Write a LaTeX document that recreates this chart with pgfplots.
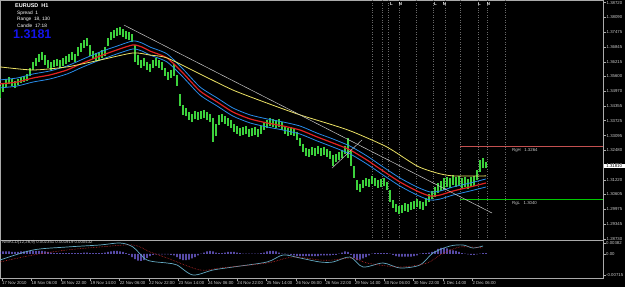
\documentclass[border=0pt]{standalone}
\usepackage{fontspec}
\setmainfont{Liberation Sans}
\usepackage{pgfplots}
\pgfplotsset{compat=1.18}
\usepackage{pgfplotstable}
\definecolor{pricegreen}{RGB}{60,210,60}
\definecolor{mared}{RGB}{225,35,35}
\definecolor{mablue}{RGB}{40,140,235}
\definecolor{mayellow}{RGB}{235,225,100}
\definecolor{axisgray}{RGB}{170,170,170}
\definecolor{labelgray}{RGB}{205,205,205}
\definecolor{trendgray}{RGB}{200,200,200}
\definecolor{dotgray}{RGB}{105,105,105}
\definecolor{rangered}{RGB}{195,80,80}
\definecolor{rangegreen}{RGB}{0,200,0}
\definecolor{histviolet}{RGB}{135,115,255}
\definecolor{macdmain}{RGB}{100,170,195}
\definecolor{macdsig}{RGB}{205,45,45}
\definecolor{bigblue}{RGB}{20,20,235}

\pgfplotstableread{
x hi lo
0 1.3519 1.3469
3 1.3528 1.3494
6 1.3549 1.3515
9 1.3557 1.3528
12 1.3549 1.3519
15 1.3540 1.3511
18 1.3549 1.3523
21 1.3557 1.3532
24 1.3562 1.3536
27 1.3570 1.3540
30 1.3595 1.3562
33 1.3621 1.3587
36 1.3638 1.3604
39 1.3655 1.3621
42 1.3663 1.3629
45 1.3650 1.3608
48 1.3629 1.3595
51 1.3621 1.3587
54 1.3629 1.3600
57 1.3633 1.3604
60 1.3629 1.3595
63 1.3638 1.3604
66 1.3646 1.3612
69 1.3655 1.3621
72 1.3663 1.3629
75 1.3655 1.3621
78 1.3684 1.3646
81 1.3701 1.3663
84 1.3714 1.3680
87 1.3722 1.3688
90 1.3693 1.3646
93 1.3667 1.3633
96 1.3659 1.3625
99 1.3663 1.3629
102 1.3672 1.3638
105 1.3684 1.3646
108 1.3722 1.3688
111 1.3748 1.3714
114 1.3756 1.3722
117 1.3765 1.3731
120 1.3769 1.3735
123 1.3760 1.3727
126 1.3752 1.3718
129 1.3748 1.3714
132 1.3739 1.3705
135 1.3693 1.3621
138 1.3650 1.3608
141 1.3629 1.3595
144 1.3638 1.3604
147 1.3621 1.3587
150 1.3612 1.3578
153 1.3629 1.3595
156 1.3638 1.3604
159 1.3629 1.3595
162 1.3621 1.3587
165 1.3595 1.3562
168 1.3578 1.3545
171 1.3587 1.3553
174 1.3612 1.3562
177 1.3566 1.3519
180 1.3485 1.3435
183 1.3439 1.3397
186 1.3426 1.3392
189 1.3409 1.3375
192 1.3401 1.3367
195 1.3413 1.3380
198 1.3409 1.3375
201 1.3413 1.3380
204 1.3418 1.3384
207 1.3409 1.3375
210 1.3401 1.3367
213 1.3384 1.3282
216 1.3358 1.3308
219 1.3397 1.3354
222 1.3401 1.3367
225 1.3392 1.3358
228 1.3384 1.3350
231 1.3375 1.3342
234 1.3358 1.3325
237 1.3350 1.3316
240 1.3342 1.3308
243 1.3346 1.3312
246 1.3350 1.3316
249 1.3337 1.3304
252 1.3342 1.3308
255 1.3346 1.3312
258 1.3337 1.3304
261 1.3350 1.3316
264 1.3367 1.3333
267 1.3375 1.3342
270 1.3384 1.3350
273 1.3380 1.3346
276 1.3375 1.3342
279 1.3380 1.3346
282 1.3367 1.3333
285 1.3350 1.3316
288 1.3342 1.3308
291 1.3346 1.3312
294 1.3342 1.3308
297 1.3325 1.3291
300 1.3299 1.3265
303 1.3274 1.3240
306 1.3257 1.3223
309 1.3253 1.3219
312 1.3261 1.3227
315 1.3257 1.3223
318 1.3265 1.3232
321 1.3257 1.3223
324 1.3261 1.3227
327 1.3253 1.3219
330 1.3244 1.3210
333 1.3227 1.3181
336 1.3232 1.3198
339 1.3240 1.3206
342 1.3249 1.3215
345 1.3265 1.3232
348 1.3299 1.3215
351 1.3249 1.3181
354 1.3181 1.3130
357 1.3122 1.3079
360 1.3105 1.3071
363 1.3122 1.3088
366 1.3130 1.3096
369 1.3126 1.3092
372 1.3139 1.3105
375 1.3130 1.3096
378 1.3122 1.3088
381 1.3126 1.3092
384 1.3130 1.3096
387 1.3113 1.3079
390 1.3079 1.3029
393 1.3037 1.3003
396 1.3020 1.2986
399 1.3012 1.2978
402 1.3016 1.2982
405 1.3024 1.2991
408 1.3020 1.2986
411 1.3029 1.2995
414 1.3033 1.2999
417 1.3041 1.3007
420 1.3033 1.2999
423 1.3029 1.2995
426 1.3046 1.3012
429 1.3062 1.3029
432 1.3075 1.3041
435 1.3092 1.3050
438 1.3109 1.3067
441 1.3117 1.3075
444 1.3130 1.3079
447 1.3134 1.3092
450 1.3130 1.3088
453 1.3143 1.3101
456 1.3134 1.3092
459 1.3139 1.3096
462 1.3130 1.3088
465 1.3134 1.3092
468 1.3126 1.3084
471 1.3134 1.3092
474 1.3139 1.3096
477 1.3164 1.3122
480 1.3206 1.3155
483 1.3215 1.3172
486 1.3198 1.3172
}\bars

\pgfplotstableread{
x mid up low
0 1.3528 1.3545 1.3511
17 1.3536 1.3553 1.3519
33 1.3553 1.3570 1.3536
50 1.3566 1.3583 1.3549
67 1.3587 1.3604 1.3570
83 1.3617 1.3633 1.3600
100 1.3646 1.3663 1.3629
117 1.3672 1.3688 1.3655
133 1.3693 1.3710 1.3676
142 1.3684 1.3701 1.3667
150 1.3667 1.3684 1.3650
167 1.3638 1.3655 1.3621
183 1.3574 1.3591 1.3557
200 1.3498 1.3515 1.3481
217 1.3452 1.3469 1.3435
233 1.3409 1.3426 1.3392
250 1.3380 1.3397 1.3363
267 1.3363 1.3380 1.3346
283 1.3350 1.3367 1.3333
300 1.3333 1.3350 1.3316
317 1.3304 1.3320 1.3287
333 1.3278 1.3295 1.3261
350 1.3249 1.3265 1.3232
367 1.3206 1.3223 1.3189
383 1.3160 1.3177 1.3143
400 1.3113 1.3130 1.3096
417 1.3075 1.3092 1.3058
430 1.3054 1.3071 1.3037
440 1.3058 1.3075 1.3041
453 1.3075 1.3092 1.3058
470 1.3092 1.3109 1.3075
486 1.3109 1.3126 1.3092
}\bands

\pgfplotstableread{
x y
0 1.3600
33 1.3587
67 1.3600
100 1.3629
133 1.3659
150 1.3650
167 1.3638
200 1.3570
233 1.3502
267 1.3447
300 1.3397
333 1.3354
353 1.3325
387 1.3261
417 1.3181
437 1.3151
453 1.3139
486 1.3139
}\slowma

\newcommand{\tinyfont}{\fontsize{4.3bp}{5bp}\selectfont}

\begin{document}
\begin{tikzpicture}
\fill[black] (0bp,0bp) rectangle (625bp,287bp);
\useasboundingbox (0bp,0bp) rectangle (625bp,287bp);

\begin{axis}[
  at={(0bp,47bp)}, anchor=south west, scale only axis,
  width=603bp, height=240bp,
  xmin=0, xmax=603, ymin=1.28678, ymax=1.3883,
  scaled ticks=false,
  axis line style={draw=axisgray, line width=0.7bp},
  clip mode=individual,
  xtick=\empty,
  ytick={1.38720,1.38090,1.37475,1.36845,1.36215,1.35600,1.34970,1.34355,1.33725,1.33095,1.32480,1.31850,1.31220,1.30605,1.29975,1.29345,1.28730},
  yticklabels={1.38720,1.38090,1.37475,1.36845,1.36215,1.35600,1.34970,1.34355,1.33725,1.33095,1.32480,1.31850,1.31220,1.30605,1.29975,1.29345,1.28730},
  ytick pos=right, yticklabel pos=right, tick align=outside,
  major tick length=3bp,
  tick style={draw=axisgray, line width=0.5bp},
  yticklabel style={font=\tinyfont, text=labelgray, anchor=west, inner sep=0.5bp},
]
% vertical dotted session lines
\addplot[dotgray, dotted, line width=0.45bp] coordinates {(372,1.28678) (372,1.3883)};
\addplot[dotgray, dotted, line width=0.45bp] coordinates {(382,1.28678) (382,1.3883)};
\addplot[dotgray, dotted, line width=0.45bp] coordinates {(388,1.28678) (388,1.3883)};
\addplot[dotgray, dotted, line width=0.45bp] coordinates {(399,1.28678) (399,1.3883)};
\addplot[dotgray, dotted, line width=0.45bp] coordinates {(416,1.28678) (416,1.3883)};
\addplot[dotgray, dotted, line width=0.45bp] coordinates {(433,1.28678) (433,1.3883)};
\addplot[dotgray, dotted, line width=0.45bp] coordinates {(445,1.28678) (445,1.3883)};
\addplot[dotgray, dotted, line width=0.45bp] coordinates {(460,1.28678) (460,1.3883)};
\addplot[dotgray, dotted, line width=0.45bp] coordinates {(478,1.28678) (478,1.3883)};
\addplot[dotgray, dotted, line width=0.45bp] coordinates {(487,1.28678) (487,1.3883)};
\addplot[dotgray, dotted, line width=0.45bp] coordinates {(505,1.28678) (505,1.3883)};
% range lines
\addplot[draw=rangered, line width=1.1bp] coordinates {(460,1.3264) (603,1.3264)};
\addplot[draw=rangegreen, line width=1.1bp] coordinates {(460,1.3040) (603,1.3040)};
% price bars (high-low segments)
\addplot[pricegreen, line width=1.3bp, mark=none,
  quiver={u=0, v=\thisrow{lo}-\thisrow{hi}}]
  table[x=x, y=hi] {\bars};
% envelopes
\addplot[mablue, line width=0.8bp, smooth, tension=0.4] table[x=x, y=up] {\bands};
\addplot[mablue, line width=0.8bp, smooth, tension=0.4] table[x=x, y=low] {\bands};
\addplot[mared, line width=1.2bp, smooth, tension=0.4] table[x=x, y=mid] {\bands};
\addplot[mayellow, line width=0.8bp, smooth, tension=0.4] table[x=x, y=y] {\slowma};
% trend lines
\addplot[trendgray, line width=0.5bp] coordinates {(124,1.3777) (492,1.2982)};
\addplot[trendgray, line width=0.5bp] coordinates {(332,1.3172) (362,1.3291)};
% labels
\node[font=\tinyfont, text=labelgray, anchor=west, inner sep=0pt] at (axis cs:512,1.3246) {RgH\ \ \ 1.3264};
\node[font=\tinyfont, text=labelgray, anchor=west, inner sep=0pt] at (axis cs:512,1.3022) {RgL\ \ \ 1.3040};
\node[font=\tinyfont\bfseries, text=white, inner sep=0pt] at (axis cs:391.5,1.3866) {L};
\node[font=\tinyfont\bfseries, text=white, inner sep=0pt] at (axis cs:400.5,1.3866) {N};
\node[font=\tinyfont\bfseries, text=white, inner sep=0pt] at (axis cs:435.5,1.3866) {L};
\node[font=\tinyfont\bfseries, text=white, inner sep=0pt] at (axis cs:444.5,1.3866) {N};
\node[font=\tinyfont\bfseries, text=white, inner sep=0pt] at (axis cs:479.5,1.3866) {L};
\node[font=\tinyfont\bfseries, text=white, inner sep=0pt] at (axis cs:488.5,1.3866) {N};
\node[font=\tinyfont, fill=white, text=black, anchor=west, inner sep=0.6bp, minimum width=21bp] at (axis cs:603.5,1.3181) {1.31810};
\end{axis}

\begin{axis}[
  at={(0bp,9bp)}, anchor=south west, scale only axis,
  width=603bp, height=38bp,
  xmin=0, xmax=603, ymin=-0.00823, ymax=0.0048,
  scaled ticks=false,
  axis line style={draw=axisgray, line width=0.7bp},
  clip mode=individual,
  xtick={2,31.4,60.8,90.2,119.6,149,178.4,207.8,237.2,266.6,296,325.4,354.8,384.2,413.6,443,472.4},
  xticklabels={17 Nov 2010,18 Nov 06:00,18 Nov 22:00,19 Nov 14:00,22 Nov 06:00,22 Nov 22:00,23 Nov 14:00,24 Nov 06:00,24 Nov 22:00,25 Nov 14:00,26 Nov 06:00,26 Nov 22:00,29 Nov 14:00,30 Nov 06:00,30 Nov 22:00,1 Dec 14:00,2 Dec 06:00},
  xtick pos=bottom, xticklabel pos=bottom,
  ytick={0.00382,0,-0.00715},
  yticklabels={0.00382,0.00,-0.00715},
  ytick pos=right, yticklabel pos=right, tick align=outside,
  major tick length=2.5bp,
  tick style={draw=axisgray, line width=0.5bp},
  yticklabel style={font=\tinyfont, text=labelgray, anchor=west, inner sep=0.5bp},
  xticklabel style={font=\tinyfont, text=labelgray, anchor=north west, inner sep=0.5bp, xshift=-0.5bp},
]
\addplot[ybar, bar width=1.3bp, bar shift=0pt, fill=histviolet, draw=none] coordinates {
(0,0.00069)(3,0.00086)(6,0.00086)(9,0.00086)(12,0.00069)(15,0.00069)(18,0.00069)(21,0.00086)(24,0.00086)(27,0.00103)(30,0.00103)(33,0.00103)(36,0.00103)(39,0.00103)(42,0.00103)(45,0.00086)(48,0.00069)(51,0.00051)(54,0.00034)(57,0.00034)(60,0.00034)(63,0.00034)(66,0.00034)(69,0.00034)(72,0.00034)(75,0.00034)(78,0.00034)(81,0.00034)(84,0.00051)(87,0.00051)(90,0.00034)(93,0.00034)(96,0.00034)(99,0.00034)(102,0.00034)(105,0.00051)(108,0.00069)(111,0.00086)(114,0.00103)(117,0.00103)(120,0.00086)(123,0.00069)(126,0.00034)(129,-0.00034)(132,-0.00103)(135,-0.00172)(138,-0.00223)(141,-0.00240)(144,-0.00206)(147,-0.00137)(150,-0.00069)(153,-0.00034)(156,-0.00017)(159,-0.00017)(162,-0.00017)(165,-0.00017)(168,-0.00017)(171,-0.00034)(174,-0.00051)(177,-0.00103)(180,-0.00172)(183,-0.00206)(186,-0.00206)(189,-0.00189)(192,-0.00154)(195,-0.00103)(198,-0.00051)(201,0.00017)(204,0.00051)(207,0.00086)(210,0.00103)(213,0.00086)(216,0.00051)(219,0.00034)(222,0.00034)(225,0.00051)(228,0.00069)(231,0.00069)(234,0.00069)(237,0.00051)(240,0.00034)(243,0.00017)(246,0.00017)(249,0.00017)(252,0.00017)(255,0.00017)(258,0.00017)(261,0.00034)(264,0.00051)(267,0.00086)(270,0.00103)(273,0.00103)(276,0.00086)(279,0.00051)(282,0.00017)(285,0.00017)(288,-0.00017)(291,-0.00034)(294,-0.00051)(297,-0.00069)(300,-0.00069)(303,-0.00069)(306,-0.00069)(309,-0.00069)(312,-0.00069)(315,-0.00069)(318,-0.00069)(321,-0.00051)(324,-0.00051)(327,-0.00051)(330,-0.00051)(333,-0.00034)(336,-0.00034)(339,0.00017)(342,0.00051)(345,0.00086)(348,0.00069)(351,-0.00034)(354,-0.00137)(357,-0.00206)(360,-0.00189)(363,-0.00154)(366,-0.00103)(369,-0.00051)(372,0.00017)(375,0.00034)(378,0.00034)(381,0.00034)(384,0.00034)(387,0.00034)(390,0.00017)(393,-0.00034)(396,-0.00069)(399,-0.00086)(402,-0.00086)(405,-0.00086)(408,-0.00086)(411,-0.00086)(414,-0.00069)(417,-0.00051)(420,0.00017)(423,0.00034)(426,0.00034)(429,0.00051)(432,0.00069)(435,0.00103)(438,0.00172)(441,0.00206)(444,0.00206)(447,0.00189)(450,0.00154)(453,0.00120)(456,0.00103)(459,0.00069)(462,0.00034)(465,0.00017)(468,-0.00017)(471,-0.00034)(474,-0.00034)(477,-0.00017)(480,0.00017)(483,0.00034)(486,0.00034)
};
\addplot[macdmain, line width=0.7bp, smooth, tension=0.5] coordinates {
(0,-0.00206)(33,0.00137)(67,0.00240)(100,0.00309)(120,0.00377)(133,0.00240)(147,-0.00206)(167,-0.00309)(177,-0.00377)(193,-0.00720)(213,-0.00549)(233,-0.00446)(267,-0.00274)(283,-0.00034)(300,-0.00137)(320,-0.00274)(333,-0.00274)(350,-0.00103)(363,-0.00446)(383,-0.00309)(400,-0.00480)(420,-0.00377)(433,0.00034)(450,0.00274)(463,0.00309)(473,0.00206)(483,0.00274)
};
\addplot[macdsig, line width=0.6bp, densely dotted, smooth, tension=0.5] coordinates {
(0,-0.00274)(33,-0.00034)(67,0.00137)(100,0.00240)(133,0.00309)(150,0.00069)(167,-0.00137)(200,-0.00549)(220,-0.00480)(267,-0.00309)(293,-0.00103)(320,-0.00206)(333,-0.00206)(353,-0.00137)(367,-0.00309)(400,-0.00446)(427,-0.00309)(440,-0.00034)(460,0.00240)(483,0.00206)
};
\node[font=\tinyfont, text=labelgray, anchor=north west, inner sep=0pt] at (axis cs:2,0.0046) {NMACD(12,26,9) 0.002351 0.001919 0.000432};
\end{axis}

% header texts
\node[font=\fontsize{5.5bp}{6bp}\selectfont\bfseries, text=white, anchor=west, inner sep=0pt] at (15bp,281bp) {EURUSD\ \ H1};
\node[font=\fontsize{4.8bp}{5.5bp}\selectfont, text=white, anchor=west, inner sep=0pt] at (17bp,274bp) {Spread\ \ 1};
\node[font=\fontsize{4.8bp}{5.5bp}\selectfont, text=white, anchor=west, inner sep=0pt] at (17bp,267.5bp) {Range\ \ 18, 130};
\node[font=\fontsize{4.8bp}{5.5bp}\selectfont, text=white, anchor=west, inner sep=0pt] at (17bp,261bp) {Candle\ \ 17:18};
\node[font=\fontsize{12.5bp}{13bp}\selectfont\bfseries, text=bigblue, anchor=west, inner sep=0pt] at (13bp,252.5bp) {1.3181};
\end{tikzpicture}
\end{document}
